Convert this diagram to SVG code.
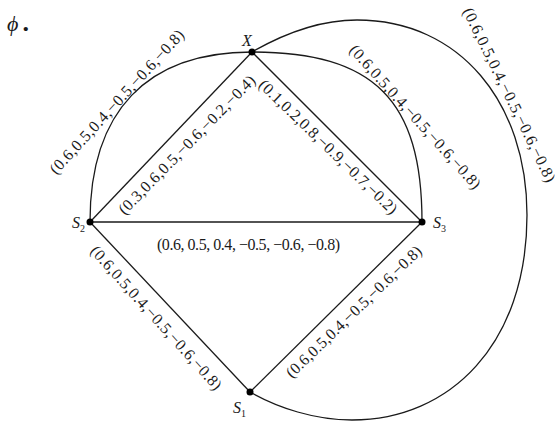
<svg xmlns="http://www.w3.org/2000/svg" width="558" height="421" viewBox="0 0 558 421">
<style>
.e{fill:none;stroke:#1a1a1a;stroke-width:1.3}
.d{fill:#000}
.l{font-family:"Liberation Serif","Times New Roman",serif;font-size:16px;fill:#1a1a1a}
.n{font-family:"Liberation Serif","Times New Roman",serif;font-size:16px;font-style:italic;fill:#1a1a1a}
.s{font-size:10px;font-style:normal}
</style>
<rect width="558" height="421" fill="#fff"/>
<g id="connectors">
  <path class="e" d="M90,222 C90,111 147,52 252,52"/>
  <path class="e" d="M252,52 C374,52 422,100 422,222"/>
  <path class="e" d="M252,52 C285,33 320,20 357,20 C460,20 527,103 527,215 C527,344 450,420 352,420 C315,420 278,408 250,392"/>
  <line class="e" x1="90" y1="222" x2="252" y2="52"/>
  <line class="e" x1="252" y1="52" x2="422" y2="222"/>
  <line class="e" x1="90" y1="222" x2="422" y2="222"/>
  <line class="e" x1="90" y1="222" x2="250" y2="392"/>
  <line class="e" x1="250" y1="392" x2="422" y2="222"/>
  <text class="l" transform="translate(117,102) rotate(-47.3)" x="0" y="5" text-anchor="middle" textLength="190" lengthAdjust="spacing">(0.6,0.5,0.4,−0.5,−0.6,−0.8)</text>
  <text class="l" transform="translate(187,145) rotate(-45.5)" x="0" y="5" text-anchor="middle" textLength="188" lengthAdjust="spacing">(0.3,0.6,0.5,−0.6,−0.2,−0.4)</text>
  <text class="l" transform="translate(328,147) rotate(44)" x="0" y="5" text-anchor="middle" textLength="186" lengthAdjust="spacing">(0.1,0.2,0.8,−0.9,−0.7,−0.2)</text>
  <text class="l" transform="translate(415,117) rotate(48)" x="0" y="5" text-anchor="middle" textLength="188" lengthAdjust="spacing">(0.6,0.5,0.4,−0.5,−0.6,−0.8)</text>
  <text class="l" transform="translate(509,95) rotate(64)" x="0" y="5" text-anchor="middle" textLength="192" lengthAdjust="spacing">(0.6,0.5,0.4,−0.5,−0.6,−0.8)</text>
  <text class="l" x="248.5" y="250" text-anchor="middle" textLength="183" lengthAdjust="spacing">(0.6, 0.5, 0.4, −0.5, −0.6, −0.8)</text>
  <text class="l" transform="translate(156,318) rotate(48)" x="0" y="5" text-anchor="middle" textLength="188" lengthAdjust="spacing">(0.6,0.5,0.4,−0.5,−0.6,−0.8)</text>
  <text class="l" transform="translate(354,312) rotate(-44)" x="0" y="5" text-anchor="middle" textLength="182" lengthAdjust="spacing">(0.6,0.5,0.4,−0.5,−0.6,−0.8)</text>
</g>
<g id="node-X">
  <circle class="d" cx="252" cy="52" r="3.5"/>
  <text class="n" x="242" y="46">X</text>
</g>
<g id="node-S2">
  <circle class="d" cx="90" cy="222" r="3.5"/>
  <text class="n" x="72" y="228">S<tspan class="s" dy="4">2</tspan></text>
</g>
<g id="node-S3">
  <circle class="d" cx="422" cy="222" r="3.5"/>
  <text class="n" x="433" y="228">S<tspan class="s" dy="4">3</tspan></text>
</g>
<g id="node-S1">
  <circle class="d" cx="250" cy="392" r="3.5"/>
  <text class="n" x="233" y="413">S<tspan class="s" dy="4">1</tspan></text>
</g>
<g id="title">
  <text x="7" y="31" style="font-family:'Liberation Serif','DejaVu Serif',serif;font-size:22px;font-style:italic;fill:#1a1a1a">ϕ<tspan dx="4" style="font-style:normal;font-weight:bold;font-size:26px">.</tspan></text>
</g>
</svg>
